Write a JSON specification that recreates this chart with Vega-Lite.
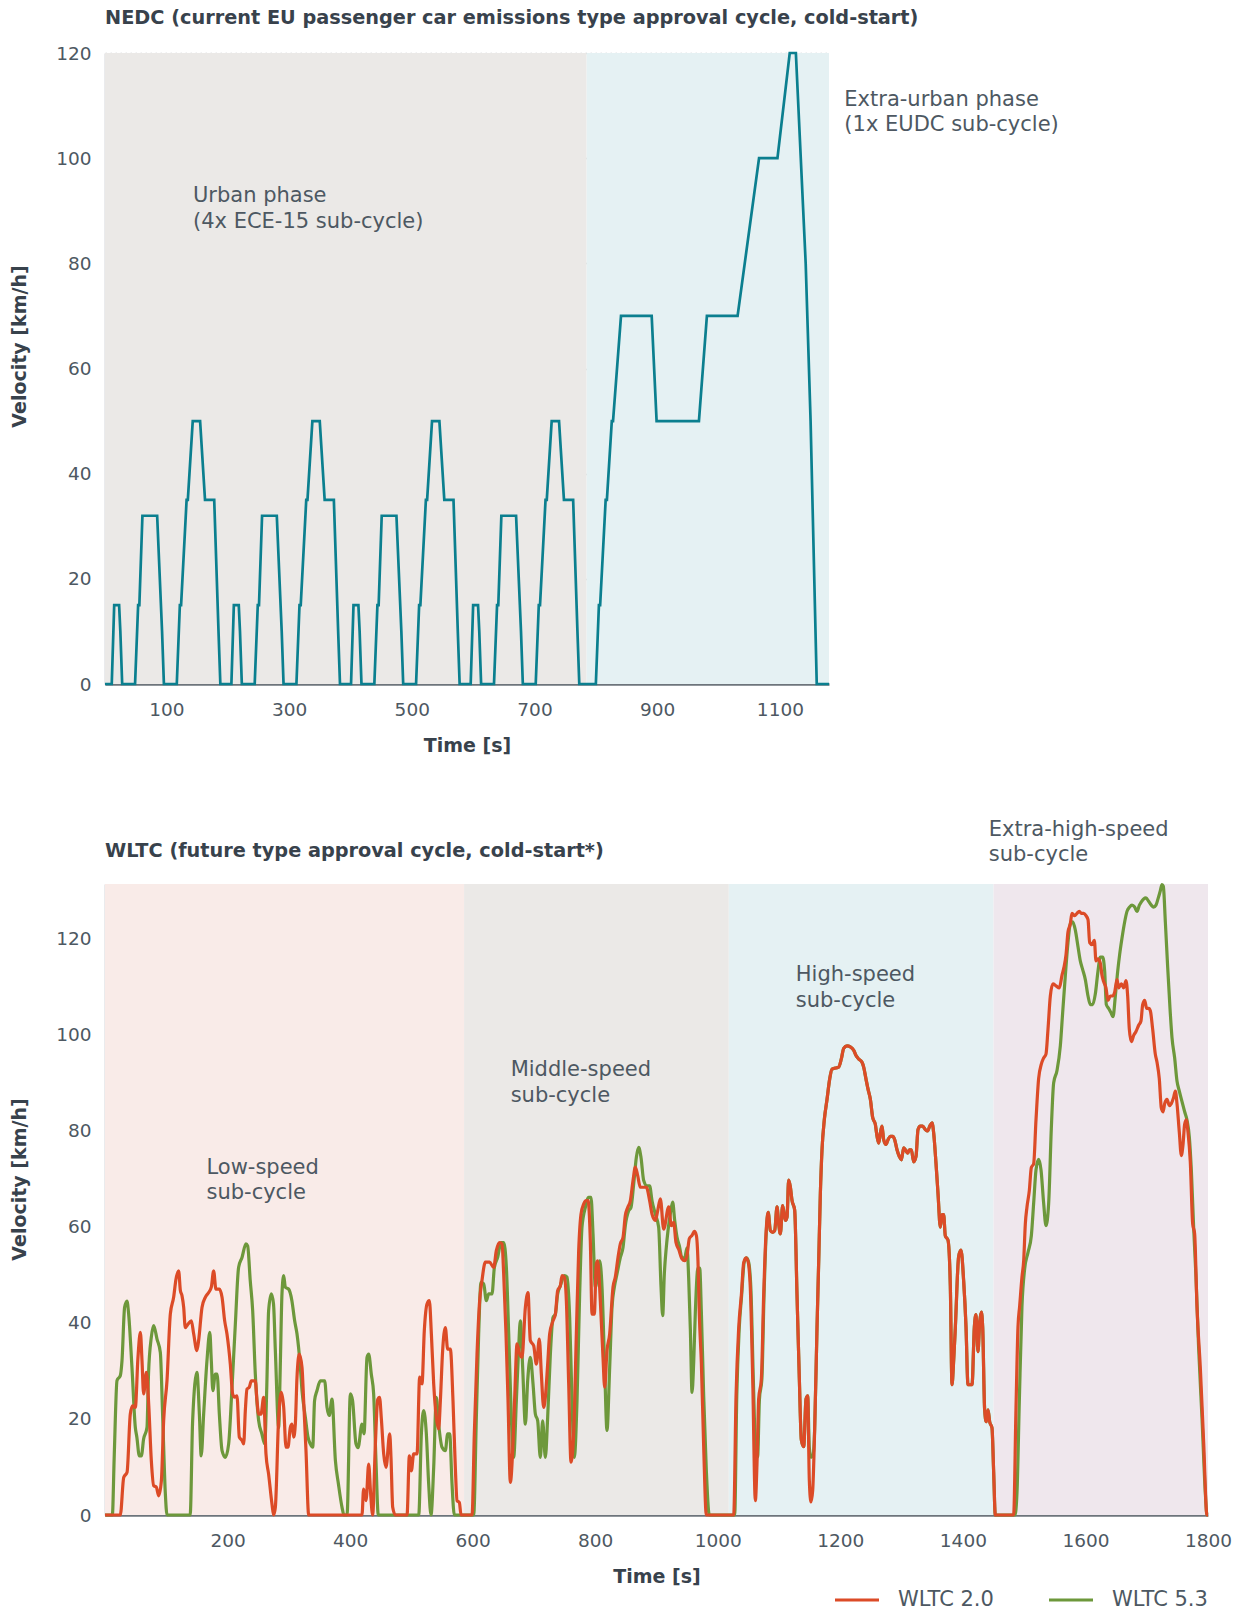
{
  "$schema": "https://vega.github.io/schema/vega-lite/v6.json",
  "background": "#ffffff",
  "padding": {"left": 10, "top": 9, "right": 5, "bottom": 0},
  "spacing": 62,
  "resolve": {"legend": {"stroke": "independent"}},
  "config": {
    "font": "DejaVu Sans",
    "view": {"stroke": null},
    "title": {"anchor": "start", "frame": "group", "fontSize": 19.3, "fontWeight": "bold", "color": "#38424c"},
    "axis": {"labelFontSize": 18.5, "labelColor": "#4d5862", "titleFontSize": 19, "titleFontWeight": "bold", "titleColor": "#38424c", "ticks": false, "labelFlush": false, "labelOverlap": false},
    "axisX": {"grid": false, "domainColor": "#6d747b", "domainWidth": 2.5, "labelPadding": 16, "titlePadding": 18, "format": "d"},
    "axisY": {"domainColor": "#38424c", "domainWidth": 1.2, "labelPadding": 14, "titlePadding": 26, "gridColor": "#c4c8cb", "gridDash": [1.5, 3.5], "gridWidth": 1.3, "zindex": 1},
    "legend": {"layout": {"bottom": {"anchor": "end"}}}
  },
  "datasets": {
    "nedcPhases": [
      {"phase": "Urban", "start": 0, "end": 785},
      {"phase": "Extra-urban", "start": 785, "end": 1180}
    ],
    "wltcPhases": [
      {"phase": "Low", "start": 0, "end": 586},
      {"phase": "Middle", "start": 586, "end": 1018},
      {"phase": "High", "start": 1018, "end": 1450},
      {"phase": "Extra-high", "start": 1450, "end": 1800}
    ],
    "nedcLabels": [
      {"t": 143.4, "v": 92.8, "label": "Urban phase\n(4x ECE-15 sub-cycle)"},
      {"t": 1205, "v": 111.1, "label": "Extra-urban phase\n(1x EUDC sub-cycle)"}
    ],
    "wltcLabels": [
      {"t": 165.6, "v": 72.3, "label": "Low-speed\nsub-cycle"},
      {"t": 662, "v": 92.5, "label": "Middle-speed\nsub-cycle"},
      {"t": 1127.3, "v": 112.4, "label": "High-speed\nsub-cycle"},
      {"t": 1442.2, "v": 142.6, "label": "Extra-high-speed\nsub-cycle"}
    ],
    "nedc": [
      {"t":0,"v":0},{"t":11,"v":0},{"t":15,"v":15},{"t":23,"v":15},{"t":25,"v":10},{"t":28,"v":0},{"t":49,"v":0},{"t":54,"v":15},{"t":56,"v":15},{"t":61,"v":32},{"t":85,"v":32},{"t":93,"v":10},{"t":96,"v":0},{"t":117,"v":0},{"t":122,"v":15},{"t":124,"v":15},{"t":133,"v":35},{"t":135,"v":35},{"t":143,"v":50},{"t":155,"v":50},{"t":163,"v":35},{"t":178,"v":35},{"t":185,"v":10},{"t":188,"v":0},
      {"t":206,"v":0},{"t":210,"v":15},{"t":218,"v":15},{"t":220,"v":10},{"t":223,"v":0},{"t":244,"v":0},{"t":249,"v":15},{"t":251,"v":15},{"t":256,"v":32},{"t":280,"v":32},{"t":288,"v":10},{"t":291,"v":0},{"t":312,"v":0},{"t":317,"v":15},{"t":319,"v":15},{"t":328,"v":35},{"t":330,"v":35},{"t":338,"v":50},{"t":350,"v":50},{"t":358,"v":35},{"t":373,"v":35},{"t":380,"v":10},{"t":383,"v":0},
      {"t":401,"v":0},{"t":405,"v":15},{"t":413,"v":15},{"t":415,"v":10},{"t":418,"v":0},{"t":439,"v":0},{"t":444,"v":15},{"t":446,"v":15},{"t":451,"v":32},{"t":475,"v":32},{"t":483,"v":10},{"t":486,"v":0},{"t":507,"v":0},{"t":512,"v":15},{"t":514,"v":15},{"t":523,"v":35},{"t":525,"v":35},{"t":533,"v":50},{"t":545,"v":50},{"t":553,"v":35},{"t":568,"v":35},{"t":575,"v":10},{"t":578,"v":0},
      {"t":596,"v":0},{"t":600,"v":15},{"t":608,"v":15},{"t":610,"v":10},{"t":613,"v":0},{"t":634,"v":0},{"t":639,"v":15},{"t":641,"v":15},{"t":646,"v":32},{"t":670,"v":32},{"t":678,"v":10},{"t":681,"v":0},{"t":702,"v":0},{"t":707,"v":15},{"t":709,"v":15},{"t":718,"v":35},{"t":720,"v":35},{"t":728,"v":50},{"t":740,"v":50},{"t":748,"v":35},{"t":763,"v":35},{"t":770,"v":10},{"t":773,"v":0},
      {"t":800,"v":0},{"t":805,"v":15},{"t":807,"v":15},{"t":816,"v":35},{"t":818,"v":35},{"t":826,"v":50},{"t":828,"v":50},{"t":841,"v":70},{"t":891,"v":70},{"t":899,"v":50},{"t":968,"v":50},{"t":981,"v":70},{"t":1031,"v":70},{"t":1066,"v":100},{"t":1096,"v":100},{"t":1116,"v":120},{"t":1126,"v":120},{"t":1142,"v":80},{"t":1150,"v":50},{"t":1160,"v":0},{"t":1180,"v":0}
    ],
    "wltc20": [
      {"t":0,"v":0},{"t":25,"v":0},{"t":30.5,"v":7.8},{"t":36,"v":8.9},{"t":41.3,"v":21},{"t":45,"v":22.7},{"t":49.5,"v":22.4},{"t":53.8,"v":32.8},{"t":57.7,"v":38},{"t":60.4,"v":32.1},{"t":63,"v":25.2},{"t":67.5,"v":29.7},{"t":71.3,"v":23.1},{"t":75.6,"v":11.3},{"t":79.4,"v":6.1},{"t":83.8,"v":5.8},{"t":87.6,"v":4},{"t":92,"v":7.1},{"t":95.7,"v":19.6},{"t":101.2,"v":28},{"t":106.6,"v":41.8},{"t":112,"v":45.3},{"t":115.9,"v":49.1},{"t":120.2,"v":50.8},{"t":123,"v":46.7},{"t":125.7,"v":45.6},{"t":128.4,"v":43.2},{"t":131,"v":39},{"t":135.4,"v":39.7},{"t":140.9,"v":40.4},{"t":144.7,"v":37.7},{"t":150,"v":34.2},{"t":152.8,"v":36.3},{"t":158.3,"v":43.2},{"t":163.7,"v":45.3},{"t":169.2,"v":46.3},{"t":173.5,"v":47.4},{"t":177.3,"v":50.8},{"t":181,"v":47},{"t":186.6,"v":47},{"t":191,"v":45.3},{"t":195.3,"v":40.4},{"t":199,"v":37.7},{"t":204.5,"v":31.4},{"t":208.3,"v":25.2},{"t":211.6,"v":24.5},{"t":215.4,"v":24.8},{"t":219.2,"v":16.2},{"t":223.6,"v":15.5},{"t":226.3,"v":14.8},{"t":229,"v":21.7},{"t":231.7,"v":26.2},{"t":235.5,"v":26.6},{"t":238.8,"v":27.9},{"t":245.3,"v":27.9},{"t":248,"v":23.8},{"t":250.8,"v":21},{"t":254.6,"v":21},{"t":258.9,"v":24.5},{"t":262.7,"v":12.7},{"t":267,"v":8.5},{"t":272.5,"v":2.3},{"t":275.2,"v":0},{"t":278,"v":1.6},{"t":283.4,"v":20.3},{"t":287.7,"v":25.5},{"t":291.6,"v":22.4},{"t":295.4,"v":14.1},{"t":298.6,"v":14.1},{"t":302.4,"v":18.2},{"t":305.2,"v":18.9},{"t":307.9,"v":16.2},{"t":310.6,"v":18.9},{"t":313.3,"v":28.6},{"t":317.1,"v":33.5},{"t":321.5,"v":30.7},{"t":324.2,"v":23.8},{"t":328,"v":13.4},{"t":332.4,"v":0},{"t":419.4,"v":0},{"t":422,"v":5.4},{"t":426,"v":3},{"t":430.3,"v":10.6},{"t":433.5,"v":4.4},{"t":436.8,"v":0},{"t":441,"v":14},{"t":445,"v":24},{"t":448,"v":24.5},{"t":451,"v":20},{"t":454.8,"v":12.7},{"t":458.6,"v":9.9},{"t":464.6,"v":16.9},{"t":466.7,"v":12},{"t":469.5,"v":1.6},{"t":473.8,"v":0},{"t":492.9,"v":0},{"t":496.7,"v":12.3},{"t":500,"v":9.2},{"t":503.7,"v":12.7},{"t":509.2,"v":12.7},{"t":513.5,"v":28.7},{"t":517.3,"v":27.3},{"t":521.1,"v":38.4},{"t":525.5,"v":43.9},{"t":529.3,"v":44.6},{"t":532.6,"v":37.7},{"t":536.4,"v":27.3},{"t":540.7,"v":20.3},{"t":544.5,"v":17.9},{"t":547.3,"v":23.8},{"t":551,"v":34.2},{"t":555.4,"v":39},{"t":559.2,"v":34.5},{"t":563.6,"v":34.5},{"t":567.9,"v":23.8},{"t":571.7,"v":9.9},{"t":574.5,"v":3},{"t":578.3,"v":2.6},{"t":581,"v":0},{"t":599,"v":0},{"t":602.7,"v":16.9},{"t":607.1,"v":33.5},{"t":611.4,"v":44.6},{"t":615.2,"v":48.8},{"t":620.7,"v":52.6},{"t":627.7,"v":52.6},{"t":634.3,"v":51.5},{"t":638.6,"v":55},{"t":644.1,"v":56.7},{"t":647.9,"v":56.4},{"t":650.6,"v":50.2},{"t":654.4,"v":37.7},{"t":657.7,"v":23.8},{"t":661.5,"v":6.8},{"t":665.3,"v":13.4},{"t":668.6,"v":24.5},{"t":672.4,"v":35.6},{"t":676.7,"v":33.5},{"t":680.5,"v":32.8},{"t":686,"v":43.2},{"t":690.3,"v":46.3},{"t":694.1,"v":36.3},{"t":699.6,"v":35.2},{"t":704,"v":31.4},{"t":708.8,"v":36.6},{"t":712.1,"v":29.3},{"t":715.9,"v":22.4},{"t":718.6,"v":24.5},{"t":722.4,"v":31.4},{"t":725.7,"v":37.7},{"t":731.1,"v":40.4},{"t":735,"v":41.8},{"t":738.7,"v":46.7},{"t":743.1,"v":47.7},{"t":745.8,"v":49.8},{"t":749.6,"v":49.5},{"t":752.9,"v":44.6},{"t":756.7,"v":27.3},{"t":760.5,"v":11},{"t":764.8,"v":16.9},{"t":769.2,"v":37.7},{"t":773,"v":55},{"t":776.8,"v":62.6},{"t":781.1,"v":64.7},{"t":785.5,"v":65.4},{"t":788.2,"v":65.4},{"t":792,"v":57.1},{"t":794.8,"v":41.8},{"t":798.5,"v":41.8},{"t":801.8,"v":52.2},{"t":804,"v":52.9},{"t":808.3,"v":44.6},{"t":812.7,"v":32.8},{"t":815.4,"v":26.6},{"t":819.2,"v":34.2},{"t":823.6,"v":37.7},{"t":829,"v":47.4},{"t":832.8,"v":49.5},{"t":837.2,"v":53.6},{"t":841,"v":56.4},{"t":845.4,"v":57.8},{"t":849.1,"v":62.3},{"t":853,"v":64},{"t":857.3,"v":65.4},{"t":861.7,"v":69.6},{"t":865.5,"v":72.4},{"t":869.3,"v":70.6},{"t":873.6,"v":68.2},{"t":883.4,"v":68.2},{"t":888.8,"v":65.4},{"t":892.7,"v":62.6},{"t":898.1,"v":61.3},{"t":901.9,"v":63.3},{"t":906.3,"v":65.8},{"t":911.7,"v":59.5},{"t":919.9,"v":64.1},{"t":924.2,"v":60.2},{"t":928,"v":60.9},{"t":931.8,"v":56.7},{"t":936.2,"v":55.3},{"t":941.6,"v":53.3},{"t":946,"v":52.9},{"t":949.8,"v":54},{"t":953.6,"v":57.5},{"t":958,"v":58.2},{"t":961.8,"v":59},{"t":965,"v":58.2},{"t":967.7,"v":52.8},{"t":969.9,"v":41.6},{"t":973.2,"v":31.7},{"t":977,"v":14.2},{"t":981.3,"v":0},
      {"t":1026,"v":0},{"t":1029.8,"v":24.8},{"t":1034.1,"v":38.8},{"t":1038.5,"v":45.8},{"t":1042.3,"v":52.5},{"t":1046.1,"v":53.5},{"t":1049.3,"v":52.8},{"t":1053.1,"v":47.2},{"t":1057,"v":28.3},{"t":1061.3,"v":3},{"t":1064,"v":10.7},{"t":1066.7,"v":24.1},{"t":1071.1,"v":28.3},{"t":1074.9,"v":45.8},{"t":1078.7,"v":58.5},{"t":1082,"v":63},{"t":1085.8,"v":59.2},{"t":1089.6,"v":58.8},{"t":1092.9,"v":59.2},{"t":1096.7,"v":64.1},{"t":1099.4,"v":60.6},{"t":1102.1,"v":58.5},{"t":1105.9,"v":64.4},{"t":1110.3,"v":61.3},{"t":1113,"v":62},{"t":1115.7,"v":69.7},{"t":1118.4,"v":68.3},{"t":1121.1,"v":65.5},{"t":1125.5,"v":63.4},{"t":1129.3,"v":45.8},{"t":1133.1,"v":28.3},{"t":1136.4,"v":15.6},{"t":1140.2,"v":14.2},{"t":1144,"v":24.1},{"t":1146.7,"v":24.8},{"t":1149.4,"v":7.2},{"t":1152.1,"v":2.7},{"t":1154.9,"v":5.1},{"t":1158.1,"v":17.8},{"t":1161.9,"v":38.8},{"t":1164.7,"v":52.8},{"t":1167.4,"v":66.9},{"t":1170.1,"v":76},{"t":1173.9,"v":82.3},{"t":1178.3,"v":86.5},{"t":1182.6,"v":90.7},{"t":1186.4,"v":92.8},{"t":1191.9,"v":93},{"t":1197.3,"v":93.2},{"t":1201.6,"v":94.9},{"t":1205.5,"v":97.1},{"t":1210.9,"v":97.6},{"t":1216.3,"v":97.4},{"t":1221.8,"v":96.7},{"t":1225.6,"v":95.6},{"t":1229.9,"v":94.9},{"t":1235.4,"v":94.2},{"t":1238.1,"v":93.2},{"t":1241.9,"v":90.7},{"t":1245.2,"v":88.6},{"t":1249,"v":86.5},{"t":1252.8,"v":82.7},{"t":1257.1,"v":81.3},{"t":1259.9,"v":78.8},{"t":1262.6,"v":77.4},{"t":1265.3,"v":79.5},{"t":1268,"v":80.9},{"t":1270.7,"v":78.1},{"t":1274.5,"v":77.1},{"t":1277.8,"v":78.1},{"t":1281.6,"v":78.8},{"t":1285.4,"v":78.8},{"t":1288.7,"v":78.1},{"t":1292.5,"v":76},{"t":1296.3,"v":74.6},{"t":1299.6,"v":73.9},{"t":1303.4,"v":76.4},{"t":1306.1,"v":76},{"t":1309.9,"v":75.3},{"t":1312.6,"v":76},{"t":1315.9,"v":76},{"t":1319.7,"v":73.5},{"t":1323.5,"v":74.6},{"t":1326.8,"v":80.2},{"t":1330.6,"v":80.9},{"t":1334.4,"v":80.9},{"t":1338.7,"v":80.2},{"t":1342.5,"v":79.9},{"t":1345.8,"v":80.9},{"t":1349.6,"v":81.6},{"t":1352.3,"v":79.5},{"t":1356.1,"v":73.2},{"t":1359.4,"v":66.9},{"t":1363.2,"v":59.9},{"t":1365.9,"v":62.5},{"t":1368.6,"v":62.5},{"t":1371.3,"v":58.1},{"t":1375.7,"v":57.2},{"t":1379.5,"v":47.7},{"t":1382.2,"v":27.1},{"t":1385,"v":32.3},{"t":1387.7,"v":39.1},{"t":1393.1,"v":53.8},{"t":1396.9,"v":55.1},{"t":1401.3,"v":48.6},{"t":1405.1,"v":39.1},{"t":1408.3,"v":27.1},{"t":1414.9,"v":27.1},{"t":1418.7,"v":39.1},{"t":1421.4,"v":41.7},{"t":1424.6,"v":34},{"t":1427.4,"v":40},{"t":1430.1,"v":42.2},{"t":1432.3,"v":39.1},{"t":1435.5,"v":21.9},{"t":1438.2,"v":19.4},{"t":1441,"v":21.9},{"t":1443.7,"v":19.4},{"t":1447.5,"v":18.1},{"t":1450.2,"v":9},{"t":1452.9,"v":0},
      {"t":1482.8,"v":0},{"t":1486.6,"v":21.9},{"t":1489.9,"v":39.1},{"t":1492.6,"v":43.4},{"t":1496.4,"v":49.5},{"t":1499.2,"v":52.9},{"t":1501.9,"v":60.6},{"t":1504.6,"v":64.1},{"t":1508.4,"v":67.5},{"t":1511.7,"v":72.3},{"t":1515.5,"v":73.1},{"t":1519.3,"v":82.2},{"t":1523.6,"v":90.8},{"t":1528,"v":93.8},{"t":1531.8,"v":95.1},{"t":1535.6,"v":95.9},{"t":1538.9,"v":101.1},{"t":1542.7,"v":108},{"t":1547,"v":110.5},{"t":1551.9,"v":110.1},{"t":1557.4,"v":109.7},{"t":1561.7,"v":112.3},{"t":1565,"v":114},{"t":1568.3,"v":116.6},{"t":1571.5,"v":121.3},{"t":1575.3,"v":123},{"t":1578,"v":125.2},{"t":1582.4,"v":124.7},{"t":1586.2,"v":125.2},{"t":1590,"v":125.6},{"t":1593.3,"v":125.2},{"t":1597.1,"v":125.2},{"t":1600.9,"v":124.7},{"t":1604.2,"v":123.9},{"t":1606.9,"v":119.1},{"t":1610.7,"v":118.7},{"t":1614.5,"v":119.6},{"t":1617.2,"v":115.3},{"t":1620.4,"v":115.7},{"t":1624.3,"v":114.8},{"t":1627,"v":112.3},{"t":1629.7,"v":111},{"t":1633.5,"v":109.7},{"t":1636.8,"v":107.1},{"t":1640.6,"v":108},{"t":1644.4,"v":108},{"t":1647.7,"v":108.8},{"t":1651.5,"v":111.4},{"t":1654.2,"v":109.7},{"t":1658.6,"v":110.5},{"t":1662.4,"v":109.7},{"t":1666.2,"v":111.2},{"t":1668.9,"v":108},{"t":1671.6,"v":101.1},{"t":1674.9,"v":98.5},{"t":1678.7,"v":99.8},{"t":1682.5,"v":100.6},{"t":1686.8,"v":101.9},{"t":1690.6,"v":102.8},{"t":1693.4,"v":106.2},{"t":1696.6,"v":107.1},{"t":1699.9,"v":105.4},{"t":1703.2,"v":105.4},{"t":1705.9,"v":104.9},{"t":1709.7,"v":101.1},{"t":1714,"v":95.9},{"t":1716.8,"v":94.2},{"t":1720.5,"v":90.8},{"t":1723.8,"v":84.7},{"t":1726.6,"v":83.9},{"t":1729.3,"v":85.6},{"t":1733.1,"v":86.5},{"t":1736.9,"v":85.2},{"t":1740.1,"v":85.6},{"t":1743.9,"v":86.9},{"t":1746.7,"v":88.2},{"t":1749.4,"v":85.6},{"t":1753.2,"v":79.6},{"t":1756.5,"v":74.8},{"t":1759.2,"v":77},{"t":1761.9,"v":81.3},{"t":1764.6,"v":82.2},{"t":1767.4,"v":79.6},{"t":1771.1,"v":73.5},{"t":1775,"v":60.6},{"t":1778.2,"v":58.5},{"t":1782,"v":43.4},{"t":1787.5,"v":30.5},{"t":1792.9,"v":15.1},{"t":1798.3,"v":0},{"t":1800,"v":0}
    ],
    "wltc53": [
      {"t":0,"v":0},{"t":12,"v":0},{"t":15,"v":12},{"t":19.6,"v":28},{"t":25,"v":29},{"t":27.7,"v":32},{"t":32,"v":43.2},{"t":35.9,"v":44.5},{"t":38.6,"v":41.8},{"t":44,"v":30.7},{"t":49.5,"v":18.2},{"t":52,"v":16.2},{"t":56,"v":12.3},{"t":59.3,"v":12.3},{"t":63,"v":15.8},{"t":68.5,"v":18.2},{"t":71,"v":29.3},{"t":75.6,"v":37},{"t":79.4,"v":39.4},{"t":84.9,"v":36.6},{"t":90.3,"v":33.8},{"t":94,"v":21},{"t":98.5,"v":4.4},{"t":101.2,"v":0},{"t":139,"v":0},{"t":143,"v":19.6},{"t":150,"v":29.7},{"t":154,"v":21},{"t":157,"v":12.3},{"t":161,"v":21},{"t":166.4,"v":32.1},{"t":171,"v":38},{"t":173.5,"v":32.1},{"t":176,"v":25.9},{"t":180,"v":29.3},{"t":183,"v":29.3},{"t":186.6,"v":21},{"t":191,"v":13.4},{"t":196.4,"v":12},{"t":201.8,"v":14.8},{"t":207,"v":25.9},{"t":212.7,"v":39.7},{"t":218,"v":51.5},{"t":223.6,"v":53.6},{"t":230,"v":56.4},{"t":232.8,"v":56},{"t":237,"v":48.8},{"t":241,"v":42.5},{"t":245.3,"v":29.3},{"t":250.8,"v":19.6},{"t":256,"v":16.9},{"t":260.6,"v":14.8},{"t":264,"v":26.6},{"t":267,"v":42.5},{"t":271.4,"v":46},{"t":275,"v":43.9},{"t":278,"v":34.2},{"t":283.4,"v":18.2},{"t":286,"v":30.7},{"t":288.8,"v":46},{"t":291.6,"v":49.8},{"t":294.3,"v":47.4},{"t":299.7,"v":47},{"t":305,"v":44.6},{"t":309.5,"v":40.4},{"t":313.3,"v":37.7},{"t":318.8,"v":30.7},{"t":321.5,"v":25.9},{"t":327,"v":20.3},{"t":331.3,"v":16.2},{"t":335,"v":14.8},{"t":339,"v":14.1},{"t":342,"v":23.8},{"t":346,"v":25.9},{"t":351.4,"v":27.9},{"t":358.5,"v":27.9},{"t":362.3,"v":22.4},{"t":366,"v":20.7},{"t":370.4,"v":24.1},{"t":376,"v":11.3},{"t":381,"v":6.4},{"t":386.8,"v":1.6},{"t":390,"v":0},{"t":395,"v":0},{"t":400.4,"v":25.2},{"t":404,"v":23.8},{"t":409.6,"v":14.8},{"t":413,"v":14},{"t":419.4,"v":18.9},{"t":422.7,"v":16.9},{"t":427.6,"v":32.8},{"t":430.3,"v":33.5},{"t":434.6,"v":29.3},{"t":438.4,"v":25.2},{"t":442,"v":12},{"t":446,"v":0},{"t":512,"v":0},{"t":516.3,"v":16.9},{"t":520.1,"v":21.7},{"t":524.4,"v":16.9},{"t":528.2,"v":6.5},{"t":532,"v":0},{"t":536.4,"v":9.9},{"t":540.7,"v":24.5},{"t":544.5,"v":18.9},{"t":550,"v":14.1},{"t":555.4,"v":13.4},{"t":559.2,"v":16.9},{"t":562.5,"v":16.9},{"t":566.3,"v":6.5},{"t":570.1,"v":0},{"t":601.7,"v":0},{"t":606,"v":20.3},{"t":609.8,"v":37.7},{"t":613.6,"v":48.4},{"t":618,"v":48.1},{"t":622.3,"v":44.6},{"t":626.1,"v":46},{"t":631.6,"v":46},{"t":635.4,"v":51.5},{"t":640.8,"v":53.6},{"t":646.3,"v":56.7},{"t":650.6,"v":56.7},{"t":655,"v":51.5},{"t":658.8,"v":37.7},{"t":663.1,"v":20.3},{"t":666.9,"v":12},{"t":671.3,"v":23.8},{"t":675.1,"v":34.9},{"t":677.8,"v":40.4},{"t":681.6,"v":30.7},{"t":686,"v":18.9},{"t":689.8,"v":28},{"t":694.1,"v":32.8},{"t":698.5,"v":27.3},{"t":702.3,"v":21},{"t":706.1,"v":19.6},{"t":710.4,"v":12},{"t":714.2,"v":19.6},{"t":718.6,"v":12},{"t":722.4,"v":20.3},{"t":726.8,"v":33.5},{"t":731.1,"v":41.1},{"t":735,"v":41.8},{"t":738.7,"v":46},{"t":743.1,"v":47.7},{"t":749.6,"v":49.8},{"t":754,"v":49.5},{"t":758.3,"v":41.1},{"t":762.1,"v":23.8},{"t":765.9,"v":12},{"t":770.3,"v":23.8},{"t":774.6,"v":46},{"t":778.4,"v":59.9},{"t":783.9,"v":64},{"t":789.3,"v":66.1},{"t":793.1,"v":66.1},{"t":796.4,"v":58.5},{"t":800.2,"v":47.4},{"t":804,"v":50.2},{"t":807.3,"v":52.9},{"t":811.1,"v":47.4},{"t":815.4,"v":30.7},{"t":819.2,"v":17.6},{"t":823.6,"v":30.7},{"t":827.4,"v":43.2},{"t":831.2,"v":47.4},{"t":835.6,"v":50.2},{"t":841,"v":53.6},{"t":845.4,"v":55.7},{"t":849.1,"v":60.2},{"t":854.6,"v":63.3},{"t":858.4,"v":64},{"t":862.8,"v":68.9},{"t":867.1,"v":74.4},{"t":870.9,"v":76.5},{"t":874.7,"v":74.4},{"t":879.1,"v":69.6},{"t":884.5,"v":68.5},{"t":888.8,"v":68.5},{"t":892.7,"v":65.4},{"t":898.1,"v":62.6},{"t":903.5,"v":59.9},{"t":907.4,"v":47.4},{"t":910.1,"v":41.5},{"t":912.8,"v":50.2},{"t":916,"v":55.7},{"t":918.8,"v":59.2},{"t":922.6,"v":62.7},{"t":926.4,"v":65.1},{"t":929.7,"v":61.3},{"t":933.5,"v":57.8},{"t":937.3,"v":56},{"t":941.6,"v":53.5},{"t":946,"v":53.5},{"t":949.8,"v":55.6},{"t":952.5,"v":49.3},{"t":955.2,"v":38.8},{"t":958,"v":25.5},{"t":960.7,"v":31.8},{"t":963.4,"v":42.3},{"t":967.7,"v":51.4},{"t":970.5,"v":51.4},{"t":973.2,"v":42.3},{"t":977,"v":24.8},{"t":981.3,"v":9.3},{"t":986.2,"v":0},
      {"t":1027.6,"v":0},{"t":1031,"v":24.8},{"t":1035,"v":38.8},{"t":1039,"v":45.8},{"t":1043,"v":52.5},{"t":1046.5,"v":53.5},{"t":1050,"v":52.8},{"t":1054,"v":47.2},{"t":1058,"v":28.3},{"t":1062,"v":13},{"t":1065,"v":12.1},{"t":1068,"v":24.1},{"t":1072,"v":28.3},{"t":1075.5,"v":45.8},{"t":1079,"v":58.5},{"t":1082.5,"v":63},{"t":1085.8,"v":59.2},{"t":1089.6,"v":58.8},{"t":1092.9,"v":59.2},{"t":1096.7,"v":64.1},{"t":1099.4,"v":60.6},{"t":1102.1,"v":58.5},{"t":1105.9,"v":64.4},{"t":1110.3,"v":61.3},{"t":1113,"v":62},{"t":1115.7,"v":69.7},{"t":1118.4,"v":68.3},{"t":1121.1,"v":65.5},{"t":1125.5,"v":63.4},{"t":1129.3,"v":45.8},{"t":1133.1,"v":28.3},{"t":1136.4,"v":15.6},{"t":1140.2,"v":14.2},{"t":1144,"v":24.1},{"t":1146.7,"v":24.8},{"t":1149.4,"v":14},{"t":1152.1,"v":12},{"t":1155.5,"v":12.5},{"t":1158.1,"v":17.8},{"t":1161.9,"v":38.8},{"t":1164.7,"v":52.8},{"t":1167.4,"v":66.9},{"t":1170.1,"v":76},{"t":1173.9,"v":82.3},{"t":1178.3,"v":86.5},{"t":1182.6,"v":90.7},{"t":1186.4,"v":92.8},{"t":1191.9,"v":93},{"t":1197.3,"v":93.2},{"t":1201.6,"v":94.9},{"t":1205.5,"v":97.1},{"t":1210.9,"v":97.6},{"t":1216.3,"v":97.4},{"t":1221.8,"v":96.7},{"t":1225.6,"v":95.6},{"t":1229.9,"v":94.9},{"t":1235.4,"v":94.2},{"t":1238.1,"v":93.2},{"t":1241.9,"v":90.7},{"t":1245.2,"v":88.6},{"t":1249,"v":86.5},{"t":1252.8,"v":82.7},{"t":1257.1,"v":81.3},{"t":1259.9,"v":78.8},{"t":1262.6,"v":77.4},{"t":1265.3,"v":79.5},{"t":1268,"v":80.9},{"t":1270.7,"v":78.1},{"t":1274.5,"v":77.1},{"t":1277.8,"v":78.1},{"t":1281.6,"v":78.8},{"t":1285.4,"v":78.8},{"t":1288.7,"v":78.1},{"t":1292.5,"v":76},{"t":1296.3,"v":74.6},{"t":1299.6,"v":73.9},{"t":1303.4,"v":76.4},{"t":1306.1,"v":76},{"t":1309.9,"v":75.3},{"t":1312.6,"v":76},{"t":1315.9,"v":76},{"t":1319.7,"v":73.5},{"t":1323.5,"v":74.6},{"t":1326.8,"v":80.2},{"t":1330.6,"v":80.9},{"t":1334.4,"v":80.9},{"t":1338.7,"v":80.2},{"t":1342.5,"v":79.9},{"t":1345.8,"v":80.9},{"t":1349.6,"v":81.6},{"t":1352.3,"v":79.5},{"t":1356.1,"v":73.2},{"t":1359.4,"v":66.9},{"t":1363.2,"v":59.9},{"t":1365.9,"v":62.5},{"t":1368.6,"v":62.5},{"t":1371.3,"v":58.1},{"t":1375.7,"v":57.2},{"t":1379.5,"v":47.7},{"t":1382.2,"v":27.1},{"t":1385,"v":32.3},{"t":1387.7,"v":39.1},{"t":1393.1,"v":53.8},{"t":1396.9,"v":55.1},{"t":1401.3,"v":48.6},{"t":1405.1,"v":39.1},{"t":1408.3,"v":27.1},{"t":1414.9,"v":27.1},{"t":1418.7,"v":39.1},{"t":1421.4,"v":41.7},{"t":1424.6,"v":34},{"t":1427.4,"v":40},{"t":1430.1,"v":42.2},{"t":1432.3,"v":39.1},{"t":1435.5,"v":21.9},{"t":1438.2,"v":19.4},{"t":1441,"v":21.9},{"t":1443.7,"v":19.4},{"t":1447.5,"v":18.1},{"t":1450.2,"v":9},{"t":1452.9,"v":0},
      {"t":1485,"v":0},{"t":1488.3,"v":4.7},{"t":1492.1,"v":23.7},{"t":1496.4,"v":43.4},{"t":1500.8,"v":51.2},{"t":1506.2,"v":54.6},{"t":1511.7,"v":58.1},{"t":1515.5,"v":64.9},{"t":1519.3,"v":71.8},{"t":1523.6,"v":74},{"t":1527.5,"v":71.8},{"t":1531.8,"v":64.9},{"t":1535.6,"v":60.2},{"t":1540,"v":64.9},{"t":1544.3,"v":80.4},{"t":1548.1,"v":89.9},{"t":1553.6,"v":92.5},{"t":1559,"v":97.6},{"t":1562.8,"v":104.5},{"t":1567.2,"v":112.3},{"t":1571.5,"v":119.1},{"t":1575.3,"v":123},{"t":1579.1,"v":123.4},{"t":1583.5,"v":121.7},{"t":1587.8,"v":118.3},{"t":1591.6,"v":115.3},{"t":1595.5,"v":113.5},{"t":1599.8,"v":111.4},{"t":1604.2,"v":108},{"t":1608,"v":106.2},{"t":1611.8,"v":106.2},{"t":1616.1,"v":108.4},{"t":1620.4,"v":113.1},{"t":1624.3,"v":116.1},{"t":1628.1,"v":116.1},{"t":1631.4,"v":113.1},{"t":1634.1,"v":106.2},{"t":1637.9,"v":105.4},{"t":1641.7,"v":104.5},{"t":1645,"v":103.7},{"t":1648.8,"v":108},{"t":1652.6,"v":113.1},{"t":1655.8,"v":116.6},{"t":1659.6,"v":120},{"t":1664,"v":123.4},{"t":1667.8,"v":125.6},{"t":1672.1,"v":126.5},{"t":1676,"v":126.9},{"t":1680.3,"v":126.5},{"t":1684.1,"v":125.6},{"t":1688,"v":126.9},{"t":1691.2,"v":127.6},{"t":1695,"v":128.2},{"t":1698.8,"v":128.4},{"t":1703.1,"v":127.7},{"t":1707.5,"v":126.9},{"t":1711.3,"v":126.5},{"t":1715.1,"v":126.9},{"t":1718.4,"v":128.2},{"t":1722.2,"v":129.9},{"t":1724.9,"v":131.2},{"t":1727.1,"v":130.8},{"t":1730.4,"v":123.4},{"t":1734.2,"v":114},{"t":1738,"v":105.4},{"t":1741.2,"v":99.4},{"t":1745.6,"v":95.1},{"t":1749.4,"v":90.3},{"t":1753.2,"v":88.2},{"t":1757.6,"v":86},{"t":1761.9,"v":83.9},{"t":1765.7,"v":82.2},{"t":1769.5,"v":78.7},{"t":1772.8,"v":71.8},{"t":1776.6,"v":59.8},{"t":1780.4,"v":49.5},{"t":1784.7,"v":34.8},{"t":1790.2,"v":20.2},{"t":1795.6,"v":4.7},{"t":1798.3,"v":0},{"t":1800,"v":0}
    ]
  },
  "vconcat": [
    {
      "width": 724,
      "height": 631,
      "title": {"text": "NEDC (current EU passenger car emissions type approval cycle, cold-start)", "offset": 15.5},
      "layer": [
        {
          "data": {"name": "nedcPhases"},
          "mark": {"type": "rect"},
          "encoding": {
            "x": {"field": "start", "type": "quantitative", "scale": {"domain": [0, 1180], "nice": false, "zero": false}, "axis": {"values": [100, 300, 500, 700, 900, 1100], "title": "Time [s]"}},
            "x2": {"field": "end"},
            "fill": {"field": "phase", "type": "nominal", "scale": {"domain": ["Urban", "Extra-urban", "Low", "Middle", "High", "Extra-high"], "range": ["#ebe9e7", "#e5f1f3", "#f9ebe8", "#ebe9e7", "#e5f1f3", "#efe7ed"]}, "legend": null}
          }
        },
        {
          "data": {"name": "nedc"},
          "mark": {"type": "line", "color": "#0b7f8f", "strokeWidth": 2.7},
          "encoding": {
            "x": {"field": "t", "type": "quantitative", "scale": {"domain": [0, 1180], "nice": false, "zero": false}},
            "y": {"field": "v", "type": "quantitative", "scale": {"domain": [0, 120], "nice": false}, "axis": {"values": [0, 20, 40, 60, 80, 100, 120], "title": "Velocity [km/h]", "titleY": 293, "grid": true, "gridOpacity": {"condition": {"test": "datum.value === 0", "value": 0}, "value": 1}}}
          }
        },
        {
          "data": {"name": "nedcLabels"},
          "mark": {"type": "text", "align": "left", "baseline": "middle", "lineBreak": "\n", "fontSize": 21, "lineHeight": 25.7, "color": "#4d5862"},
          "encoding": {
            "x": {"field": "t", "type": "quantitative"},
            "y": {"field": "v", "type": "quantitative"},
            "text": {"field": "label"}
          }
        }
      ]
    },
    {
      "width": 1103,
      "height": 631,
      "title": {"text": "WLTC (future type approval cycle, cold-start*)", "offset": -43},
      "layer": [
        {
          "data": {"name": "wltcPhases"},
          "mark": {"type": "rect"},
          "encoding": {
            "x": {"field": "start", "type": "quantitative", "scale": {"domain": [0, 1800], "nice": false, "zero": false}, "axis": {"values": [200, 400, 600, 800, 1000, 1200, 1400, 1600, 1800], "title": "Time [s]"}},
            "x2": {"field": "end"},
            "fill": {"field": "phase", "type": "nominal", "scale": {"domain": ["Urban", "Extra-urban", "Low", "Middle", "High", "Extra-high"], "range": ["#ebe9e7", "#e5f1f3", "#f9ebe8", "#ebe9e7", "#e5f1f3", "#efe7ed"]}, "legend": null}
          }
        },
        {
          "data": {"name": "wltc53"},
          "mark": {"type": "line", "strokeWidth": 3.2, "interpolate": "monotone", "strokeJoin": "round"},
          "encoding": {
            "x": {"field": "t", "type": "quantitative", "scale": {"domain": [0, 1800], "nice": false, "zero": false}},
            "y": {"field": "v", "type": "quantitative", "scale": {"domain": [0, 131.3], "nice": false}, "axis": {"values": [0, 20, 40, 60, 80, 100, 120], "title": "Velocity [km/h]", "titleY": 295, "grid": true, "gridOpacity": {"condition": {"test": "datum.value === 0", "value": 0}, "value": 1}}},
            "stroke": {"datum": "WLTC 5.3", "type": "nominal", "scale": {"domain": ["WLTC 2.0", "WLTC 5.3"], "range": ["#dc4b27", "#6d983b"]}, "legend": {"orient": "bottom", "direction": "horizontal", "title": null, "symbolType": "stroke", "symbolSize": 1936, "symbolStrokeWidth": 3.2, "labelFontSize": 21, "labelColor": "#4d5862", "labelOffset": 17, "columnPadding": 48, "offset": -11}}
          }
        },
        {
          "data": {"name": "wltc20"},
          "mark": {"type": "line", "strokeWidth": 3.2, "interpolate": "monotone", "strokeJoin": "round"},
          "encoding": {
            "x": {"field": "t", "type": "quantitative"},
            "y": {"field": "v", "type": "quantitative"},
            "stroke": {"datum": "WLTC 2.0", "type": "nominal"}
          }
        },
        {
          "data": {"name": "wltcLabels"},
          "mark": {"type": "text", "align": "left", "baseline": "middle", "lineBreak": "\n", "fontSize": 21, "lineHeight": 25.7, "color": "#4d5862"},
          "encoding": {
            "x": {"field": "t", "type": "quantitative"},
            "y": {"field": "v", "type": "quantitative"},
            "text": {"field": "label"}
          }
        }
      ]
    }
  ]
}
